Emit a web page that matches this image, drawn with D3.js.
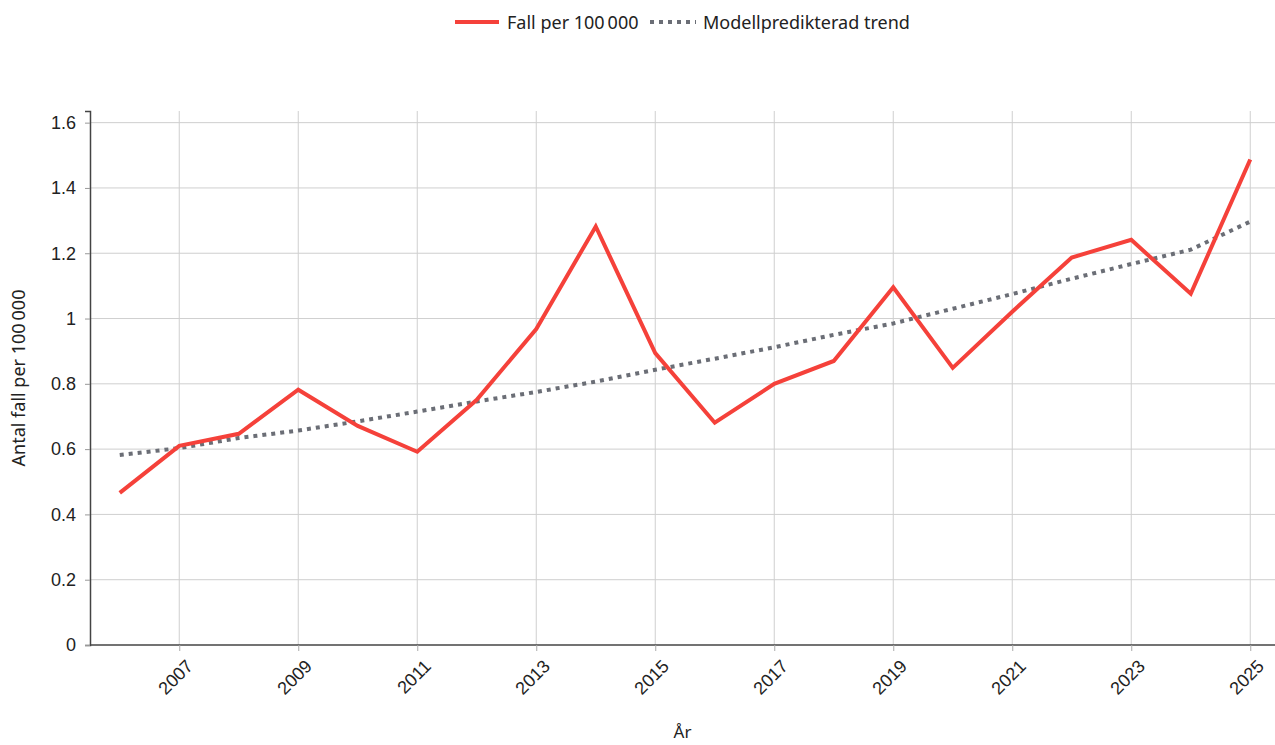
<!DOCTYPE html>
<html>
<head>
<meta charset="utf-8">
<title>Fall per 100 000</title>
<style>
  body { margin: 0; background: #fff; }
  svg { display: block; font-family: "Noto Sans", "Open Sans", sans-serif; }
</style>
</head>
<body>
<script src="https://cdn.jsdelivr.net/npm/d3@7"></script>
<script>
// data
var years = [2006, 2007, 2008, 2009, 2010, 2011, 2012, 2013, 2014, 2015,
             2016, 2017, 2018, 2019, 2020, 2021, 2022, 2023, 2024, 2025];
var fall = [0.466, 0.610, 0.647, 0.782, 0.671, 0.592, 0.751, 0.968, 1.282, 0.894,
            0.681, 0.800, 0.870, 1.096, 0.849, 1.021, 1.187, 1.241, 1.076, 1.487];
var trend = [0.582, 0.603, 0.634, 0.657, 0.685, 0.715, 0.746, 0.775, 0.807, 0.843,
             0.877, 0.912, 0.950, 0.985, 1.030, 1.075, 1.122, 1.167, 1.211, 1.297];
var xTicks = [2007, 2009, 2011, 2013, 2015, 2017, 2019, 2021, 2023, 2025];
var yTicks = [0, 0.2, 0.4, 0.6, 0.8, 1, 1.2, 1.4, 1.6];
var yTickLabels = ["0", "0.2", "0.4", "0.6", "0.8", "1", "1.2", "1.4", "1.6"];

var width = 1275, height = 745;
var margin = { top: 111, right: -5, bottom: 100, left: 90 };
var red = "#f5413a", grey = "#6b6e76";

var svg = d3.select("body").append("svg")
    .attr("width", width)
    .attr("height", height);

var x = d3.scalePoint()
    .domain(years)
    .range([margin.left, width - margin.right])
    .padding(0.5);

var y = d3.scaleLinear()
    .domain([0, d3.max(fall) * 1.1])
    .range([height - margin.bottom, margin.top]);

// grid
svg.append("g")
    .attr("class", "grid-x")
  .selectAll("line")
  .data(xTicks)
  .join("line")
    .attr("x1", d => x(d)).attr("x2", d => x(d))
    .attr("y1", y.range()[1]).attr("y2", y.range()[0])
    .attr("stroke", "#cfcfcf").attr("stroke-width", 1);

svg.append("g")
    .attr("class", "grid-y")
  .selectAll("line")
  .data(yTicks.slice(1))
  .join("line")
    .attr("x1", margin.left).attr("x2", width)
    .attr("y1", d => y(d)).attr("y2", d => y(d))
    .attr("stroke", "#cfcfcf").attr("stroke-width", 1);

// axes
var xAxis = g => g
    .attr("transform", `translate(0,${height - margin.bottom})`)
    .call(d3.axisBottom(x).tickValues(xTicks).tickSizeOuter(0).tickSize(6))
    .call(g => g.select(".domain").attr("stroke", "#444").attr("stroke-width", 1.5).attr("d", `M${margin.left},0H${width}`))
    .call(g => g.selectAll(".tick line").attr("stroke", "#aaa"))
    .call(g => g.selectAll(".tick text")
        .attr("font-size", 18)
        .attr("fill", "#222")
        .attr("text-anchor", "end")
        .attr("dy", 0)
        .attr("transform", "translate(8,16) rotate(-45)"));

var yAxis = g => g
    .attr("transform", `translate(${margin.left},0)`)
    .call(d3.axisLeft(y).tickValues(yTicks).tickFormat((d, i) => yTickLabels[i]).tickSizeOuter(0).tickSize(5))
    .call(g => g.select(".domain").attr("stroke", "#444").attr("stroke-width", 1.5))
    .call(g => g.selectAll(".tick line").attr("stroke", "#999"))
    .call(g => g.selectAll(".tick text")
        .attr("font-size", 18)
        .attr("fill", "#222")
        .attr("x", -14));

svg.append("g").attr("class", "x-axis").call(xAxis);
svg.append("g").attr("class", "y-axis").call(yAxis);

// axis titles
svg.append("text")
    .attr("x", (margin.left + width) / 2)
    .attr("y", 738)
    .attr("text-anchor", "middle")
    .attr("font-size", 17)
    .attr("fill", "#222")
    .text("År");

svg.append("text")
    .attr("transform", `translate(25,${(y.range()[0] + y.range()[1]) / 2}) rotate(-90)`)
    .attr("text-anchor", "middle")
    .attr("font-size", 18)
    .attr("fill", "#222")
    .text("Antal fall per 100\u202f000");

// lines
var line = d3.line().x((d, i) => x(years[i])).y(d => y(d));

svg.append("path")
    .datum(trend)
    .attr("fill", "none")
    .attr("stroke", grey)
    .attr("stroke-width", 4)
    .attr("stroke-dasharray", "4,5")
    .attr("d", line);

svg.append("path")
    .datum(fall)
    .attr("fill", "none")
    .attr("stroke", red)
    .attr("stroke-width", 4)
    .attr("stroke-linejoin", "miter")
    .attr("d", line);

// legend
var legend = svg.append("g").attr("class", "legend").attr("font-size", 18).attr("fill", "#222");
legend.append("line")
    .attr("x1", 455).attr("x2", 499).attr("y1", 22).attr("y2", 22)
    .attr("stroke", red).attr("stroke-width", 4);
legend.append("text").attr("x", 507).attr("y", 28.5).text("Fall per 100\u202f000");
legend.append("line")
    .attr("x1", 650).attr("x2", 696).attr("y1", 22).attr("y2", 22)
    .attr("stroke", grey).attr("stroke-width", 4).attr("stroke-dasharray", "4,5");
legend.append("text").attr("x", 703).attr("y", 28.5).text("Modellpredikterad trend");
</script>
</body>
</html>
